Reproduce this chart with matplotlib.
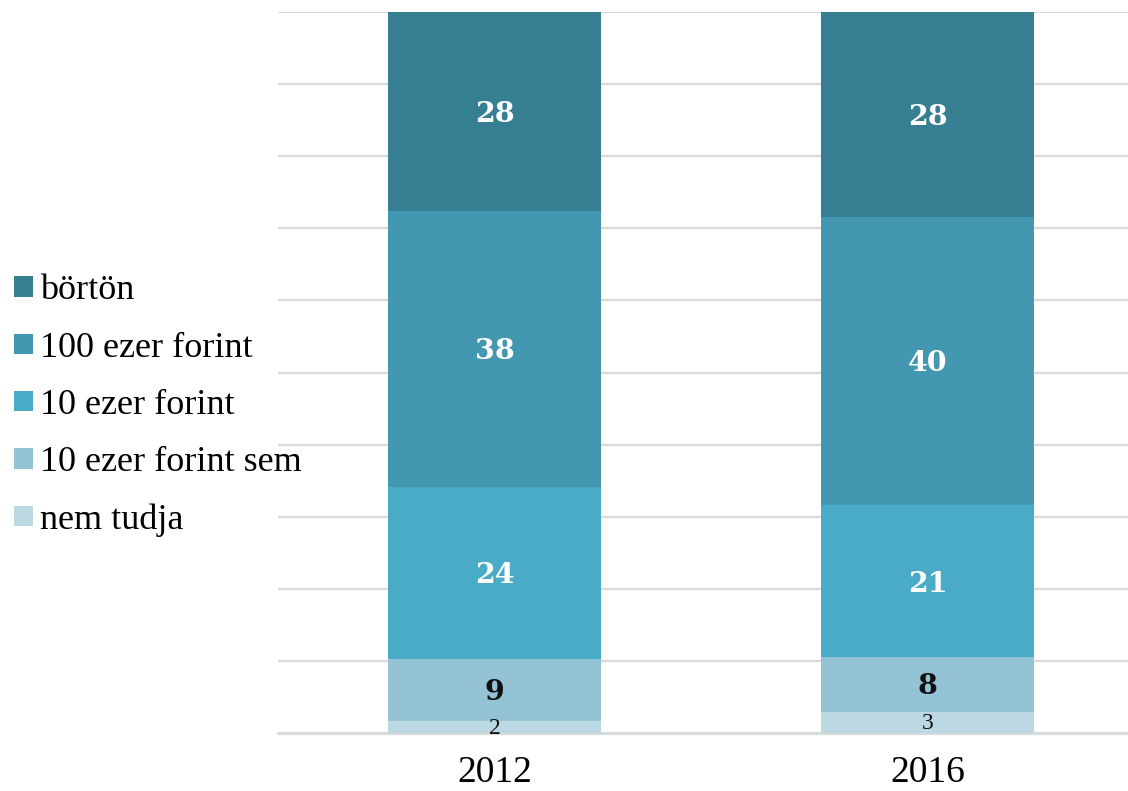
import matplotlib
matplotlib.use("Agg")
import matplotlib.pyplot as plt
from matplotlib.patches import Patch

years = ["2012", "2016"]
categories = ["nem tudja", "10 ezer forint sem", "10 ezer forint", "100 ezer forint", "börtön"]
values_2012 = [1.6, 8.7, 23.8, 38.3, 27.6]
values_2016 = [2.9, 7.6, 21.1, 40.0, 28.4]
colors = ["#BBD8E3", "#93C3D5", "#4AABC6", "#4397B0", "#367F93"]

plt.rcParams["font.family"] = ["Liberation Serif", "DejaVu Serif"]

fig = plt.figure(figsize=(11.28, 7.91), dpi=100)
ax = fig.add_axes([278/1128, 1-733/791, 1-278/1128, (733-12)/791])

series = list(zip(values_2012, values_2016))
x = [0, 1]
bottoms = [0.0, 0.0]
for i, (cat, col) in enumerate(zip(categories, colors)):
    vals = series[i]
    ax.bar(x, vals, width=0.492, bottom=bottoms, color=col, zorder=3)
    for j in range(2):
        v = vals[j]
        yc = bottoms[j] + v / 2
        lbl = f"{v:.0f}"
        if i == 0:
            ax.text(x[j], yc - 0.2, lbl, ha="center", va="center", fontsize=17,
                    color="#111111", zorder=4)
        elif i == 1:
            ax.text(x[j], yc - 0.3, lbl, ha="center", va="center", fontsize=20.5,
                    fontweight="bold", family="DejaVu Serif", color="#111111", zorder=4)
        else:
            ax.text(x[j], yc - 0.4, lbl, ha="center", va="center", fontsize=20.5,
                    fontweight="bold", family="DejaVu Serif", color="white", zorder=4)
    bottoms = [bottoms[k] + vals[k] for k in range(2)]

ax.set_ylim(0, 100)
ax.set_xlim(-0.5, 1.463)
ax.set_yticks(range(0, 101, 10))
ax.yaxis.grid(True, color="#D9D9D9", linewidth=1.6, zorder=0)
ax.set_axisbelow(True)
ax.tick_params(axis="y", left=False, labelleft=False)
ax.tick_params(axis="x", bottom=False, labelsize=27, pad=13)
ax.set_xticks(x)
ax.set_xticklabels(years)
for s in ["top", "right", "left"]:
    ax.spines[s].set_visible(False)
ax.spines["bottom"].set_color("#D9D9D9")
ax.spines["bottom"].set_linewidth(2.2)

handles = [Patch(facecolor=c, edgecolor="none") for c in colors[::-1]]
leg = fig.legend(handles, categories[::-1], loc="upper left",
                 bbox_to_anchor=(0.0, 1-260/791), frameon=False,
                 fontsize=26, handlelength=0.5, handleheight=0.5,
                 handletextpad=0.2, labelspacing=0.67, borderaxespad=0)

fig.savefig("out.png", dpi=100)
